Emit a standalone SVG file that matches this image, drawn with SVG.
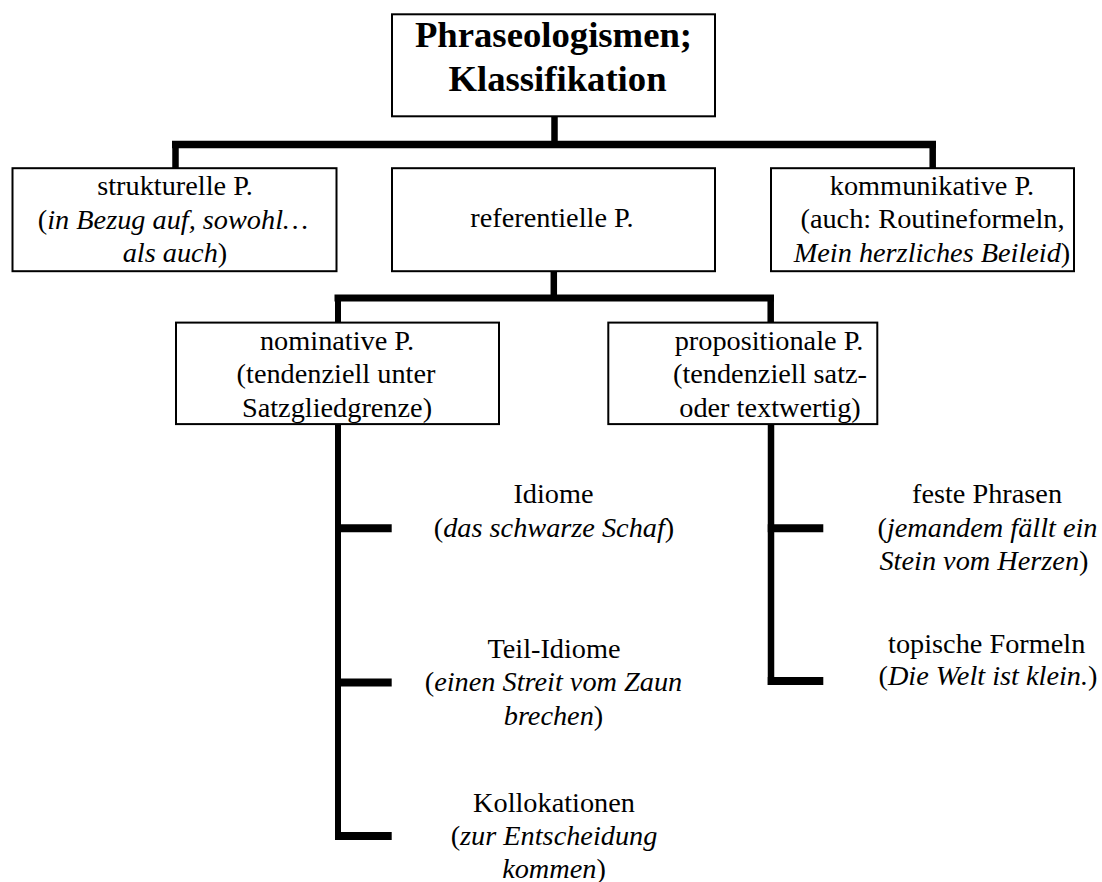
<svg xmlns="http://www.w3.org/2000/svg" width="1102" height="882" viewBox="0 0 1102 882">
<style>
  .box { fill: #fff; stroke: #000; stroke-width: 2; }
  .t { font-family: "Liberation Serif", "Times New Roman", serif; font-size: 28.3px; fill: #000; text-anchor: middle; }
  .title { font-family: "Liberation Serif", "Times New Roman", serif; font-size: 36.7px; font-weight: bold; fill: #000; text-anchor: middle; }
  .it { font-style: italic; }
  .c { stroke: #000; fill: none; stroke-linecap: butt; }
</style>
<rect width="1102" height="882" fill="#fff"/>
<g id="connectors">
  <line class="c" x1="554.5" y1="117" x2="554.5" y2="148" stroke-width="6.5"/>
  <line class="c" x1="172" y1="144.5" x2="936" y2="144.5" stroke-width="7.5"/>
  <line class="c" x1="175.5" y1="144.5" x2="175.5" y2="168" stroke-width="6.5"/>
  <line class="c" x1="932.7" y1="144.5" x2="932.7" y2="168" stroke-width="6.5"/>
  <line class="c" x1="553.8" y1="272" x2="553.8" y2="301" stroke-width="6.5"/>
  <line class="c" x1="334.5" y1="298" x2="774" y2="298" stroke-width="7"/>
  <line class="c" x1="338" y1="298" x2="338" y2="322" stroke-width="6"/>
  <line class="c" x1="770.7" y1="298" x2="770.7" y2="322" stroke-width="6.5"/>
  <line class="c" x1="338" y1="425" x2="338" y2="840" stroke-width="6"/>
  <line class="c" x1="335" y1="528.3" x2="391.7" y2="528.3" stroke-width="8"/>
  <line class="c" x1="335" y1="682.5" x2="391.7" y2="682.5" stroke-width="8"/>
  <line class="c" x1="335" y1="836" x2="391.7" y2="836" stroke-width="8"/>
  <line class="c" x1="771" y1="425" x2="771" y2="685" stroke-width="6.5"/>
  <line class="c" x1="767.75" y1="528.3" x2="823.3" y2="528.3" stroke-width="8"/>
  <line class="c" x1="767.75" y1="681" x2="823.3" y2="681" stroke-width="8"/>
</g>
<g id="root">
  <rect class="box" x="392" y="14.3" width="323" height="102"/>
  <text class="title" x="553.5" y="47">Phraseologismen;</text>
  <text class="title" x="557.5" y="91">Klassifikation</text>
</g>
<g id="strukturelle">
  <rect class="box" x="12.5" y="168.2" width="324" height="103"/>
  <text class="t" x="175" y="195">strukturelle P.</text>
  <text class="t" x="173" y="229">(<tspan class="it">in Bezug auf, sowohl…</tspan></text>
  <text class="t" x="175" y="262"><tspan class="it">als auch</tspan>)</text>
</g>
<g id="referentielle">
  <rect class="box" x="392" y="168.2" width="323" height="103"/>
  <text class="t" x="552" y="227">referentielle P.</text>
</g>
<g id="kommunikative">
  <rect class="box" x="771" y="168.2" width="303" height="103"/>
  <text class="t" x="932" y="195">kommunikative P.</text>
  <text class="t" x="932.5" y="228">(auch: Routineformeln,</text>
  <text class="t" x="932" y="262"><tspan class="it">Mein herzliches Beileid</tspan>)</text>
</g>
<g id="nominative">
  <rect class="box" x="176" y="322.6" width="323" height="101.5"/>
  <text class="t" x="337" y="350">nominative P.</text>
  <text class="t" x="336" y="383">(tendenziell unter</text>
  <text class="t" x="337" y="417">Satzgliedgrenze)</text>
</g>
<g id="propositionale">
  <rect class="box" x="608.3" y="322.6" width="269" height="101.5"/>
  <text class="t" x="769" y="350">propositionale P.</text>
  <text class="t" x="770" y="383">(tendenziell satz-</text>
  <text class="t" x="770" y="417">oder textwertig)</text>
</g>
<g id="idiome">
  <text class="t" x="553.5" y="503.3">Idiome</text>
  <text class="t" x="554" y="536.7">(<tspan class="it">das schwarze Schaf</tspan>)</text>
</g>
<g id="teil-idiome">
  <text class="t" x="554" y="658">Teil-Idiome</text>
  <text class="t" x="553.5" y="691">(<tspan class="it">einen Streit vom Zaun</tspan></text>
  <text class="t" x="553.5" y="724.5"><tspan class="it">brechen</tspan>)</text>
</g>
<g id="kollokationen">
  <text class="t" x="554" y="811.7">Kollokationen</text>
  <text class="t" x="554" y="845">(<tspan class="it">zur Entscheidung</tspan></text>
  <text class="t" x="554" y="878"><tspan class="it">kommen</tspan>)</text>
</g>
<g id="feste-phrasen">
  <text class="t" x="987" y="503.3">feste Phrasen</text>
  <text class="t" x="987.5" y="536.7">(<tspan class="it">jemandem fällt ein</tspan></text>
  <text class="t" x="984" y="570"><tspan class="it">Stein vom Herzen</tspan>)</text>
</g>
<g id="topische-formeln">
  <text class="t" x="986.7" y="653.3">topische Formeln</text>
  <text class="t" x="988" y="685">(<tspan class="it">Die Welt ist klein.</tspan>)</text>
</g>
</svg>
